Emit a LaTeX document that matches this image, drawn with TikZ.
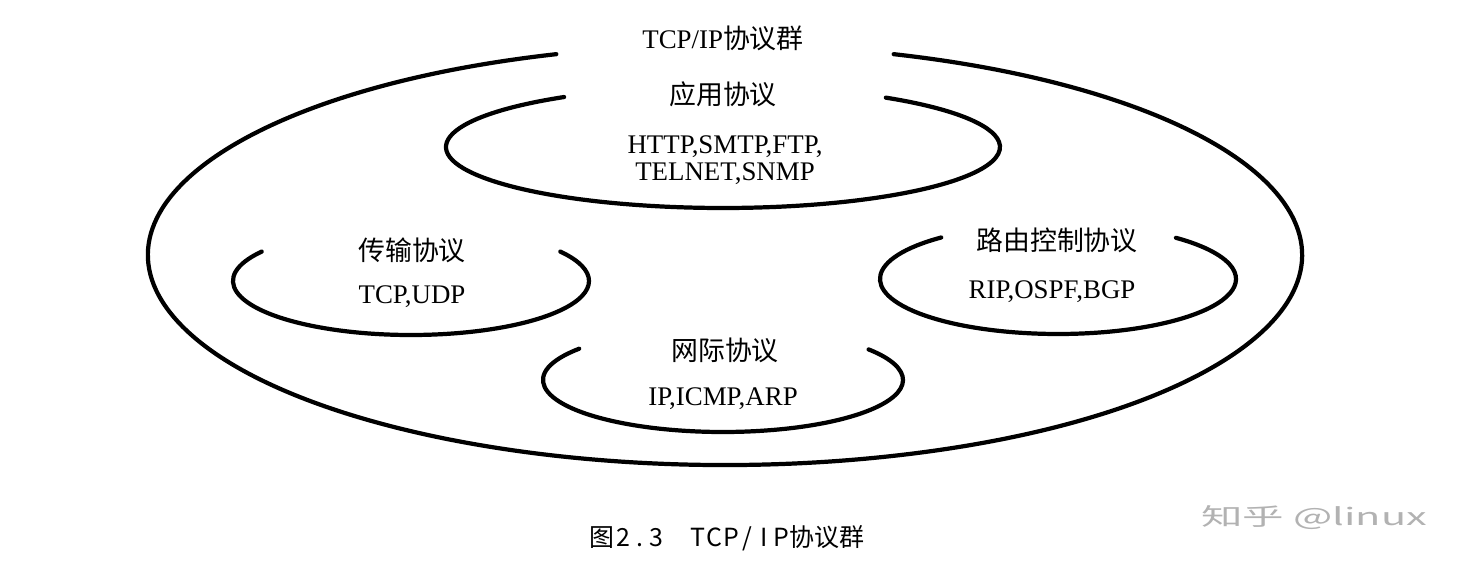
\documentclass[tikz,border=0pt]{standalone}
\usepackage{fontspec}
\usepackage{graphicx}
\setmainfont{Liberation Serif}
\newfontfamily\cjk{Noto Sans CJK SC}
\newcommand\hwc[1]{\makebox[0.667em][c]{#1}}
\begin{document}
\begin{tikzpicture}[x=0.02cm,y=0.02cm,
  ring/.style={line width=2.4pt, line cap=round},
  lbl/.style={inner sep=0pt, font=\fontsize{15.3}{16}\selectfont},
  captext/.style={inner sep=0pt, font=\cjk\fontsize{14.2}{16}\selectfont},
  wm/.style={inner sep=0pt, text=black!30, font=\cjk\fontsize{13.5}{16}\selectfont}]
\useasboundingbox (0,0) rectangle (1476,584);
% outer ring: TCP/IP suite
\draw[ring] (725,329) ++(107:577 and 210) arc[start angle=107,end angle=433,x radius=577,y radius=210];
% application protocols
\draw[ring] (723,437) ++(125:277 and 61) arc[start angle=125,end angle=414,x radius=277,y radius=61];
% transport protocols
\draw[ring] (411,303) ++(147:178 and 54) arc[start angle=147,end angle=393,x radius=178,y radius=54];
% routing control protocols
\draw[ring] (1058,305) ++(131:178 and 55) arc[start angle=131,end angle=408.5,x radius=178,y radius=55];
% internet protocols
\draw[ring] (723,204) ++(143:180 and 52) arc[start angle=143,end angle=396,x radius=180,y radius=52];
% labels
\node[lbl] (suite) at (723,546) {TCP/IP{\cjk 协议群}};
\node[lbl] (app) at (723,490) {\cjk 应用协议};
\node[lbl, align=center] (applist) at (725,424) {HTTP,SMTP,FTP,\\[-0.5pt]TELNET,SNMP};
\node[lbl] (trans) at (412,334) {\cjk 传输协议};
\node[lbl] (translist) at (412,287) {TCP,UDP};
\node[lbl] (route) at (1057,344) {\cjk 路由控制协议};
\node[lbl] (routelist) at (1052,292) {RIP,OSPF,BGP};
\node[lbl] (inet) at (725,234) {\cjk 网际协议};
\node[lbl] (inetlist) at (723,185) {IP,ICMP,ARP};
% caption and watermark
\node[captext] (caption) at (727,46) {图\hwc{2}\hwc{.}\hwc{3}\hspace{1em}\hwc{T}\hwc{C}\hwc{P}\hwc{/}\hwc{I}\hwc{P}协议群};
\node[wm] (mark) at (1314,66) {\scalebox{1.75}[1]{知乎 @linux}};
\end{tikzpicture}
\end{document}
